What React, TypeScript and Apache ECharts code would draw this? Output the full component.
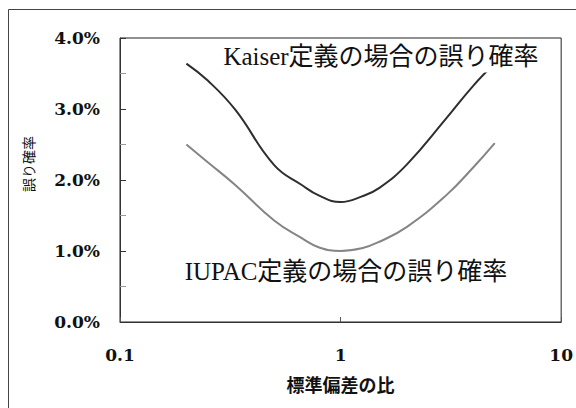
import React, { useEffect, useRef } from "react";
import * as echarts from "echarts";

const ratios = [0.2, 0.25, 0.333, 0.5, 0.667, 0.8, 1, 1.25, 1.5, 2, 3, 4, 5];
const kaiserValues = [3.64, 3.40, 2.99, 2.21, 1.93, 1.78, 1.69, 1.77, 1.89, 2.22, 2.86, 3.33, 3.64];
const iupacValues = [2.5, 2.25, 1.93, 1.43, 1.18, 1.05, 1.0, 1.04, 1.13, 1.34, 1.78, 2.18, 2.52];
const xTickLabels = ["0.1", "1", "10"];
const yTickLabels = ["0.0%", "1.0%", "2.0%", "3.0%", "4.0%"];
const kaiserLabel = "Kaiser定義の場合の誤り確率";
const iupacLabel = "IUPAC定義の場合の誤り確率";
const xName = "標準偏差の比";
const yName = "誤り確率";

const SERIF = "'DejaVu Serif', 'Liberation Serif', serif";
const MIXED = "'Liberation Serif', 'Noto Sans CJK JP', serif";
const CJK = "'Noto Sans CJK JP', sans-serif";

export default function App() {
  const ref = useRef<HTMLDivElement>(null);
  useEffect(() => {
    if (!ref.current) return;
    const chart = echarts.init(ref.current, undefined, { renderer: "svg" });
    const kaiser = ratios.map((r, i) => [r, kaiserValues[i]]);
    const iupac = ratios.map((r, i) => [r, iupacValues[i]]);
    chart.setOption({
      animation: false,
      backgroundColor: "#ffffff",
      grid: {
        left: 120,
        top: 38,
        right: 14,
        bottom: 86,
        show: true,
        borderColor: "#222",
        borderWidth: 1,
        backgroundColor: "transparent",
      },
      xAxis: {
        type: "log",
        logBase: 10,
        min: 0.1,
        max: 10,
        axisLine: { lineStyle: { color: "#333", width: 1 } },
        axisTick: { show: true, inside: true, length: 5, lineStyle: { color: "#555" } },
        minorTick: { show: false },
        splitLine: { show: false },
        axisLabel: {
          margin: 24,
          color: "#111",
          fontFamily: SERIF,
          fontWeight: "bold",
          fontSize: 17,
          formatter: (v: number) => {
            const idx = Math.round(Math.log10(v)) + 1;
            return xTickLabels[idx] ?? String(v);
          },
        },
        name: xName,
        nameLocation: "middle",
        nameGap: 53,
        nameTextStyle: { fontFamily: CJK, fontSize: 18, fontWeight: "bold", color: "#111" },
      },
      yAxis: {
        type: "value",
        min: 0,
        max: 4,
        interval: 1,
        axisLine: { show: true, lineStyle: { color: "#333", width: 1 } },
        axisTick: { show: true, inside: true, length: 6, lineStyle: { color: "#333" } },
        minorTick: { show: true, splitNumber: 2, length: 6, lineStyle: { color: "#999" } },
        splitLine: { show: false },
        axisLabel: {
          margin: 20,
          color: "#111",
          fontFamily: SERIF,
          fontWeight: "bold",
          fontSize: 17,
          formatter: (v: number) => yTickLabels[Math.round(v)] ?? "",
        },
      },
      series: [
        {
          type: "line",
          name: "IUPAC",
          data: iupac,
          smooth: 0.45,
          showSymbol: false,
          lineStyle: { color: "#858585", width: 2 },
          z: 2,
        },
        {
          type: "line",
          name: "Kaiser",
          data: kaiser,
          smooth: 0.45,
          showSymbol: false,
          lineStyle: { color: "#2e2e2e", width: 2 },
          z: 3,
        },
      ],
      graphic: [
        {
          type: "rect",
          z: 0,
          silent: true,
          shape: { x: 8.5, y: 9.5, width: 640, height: 480 },
          style: { fill: "none", stroke: "#444", lineWidth: 1 },
        },
        {
          type: "text",
          z: 100,
          x: 381,
          y: 56,
          style: {
            text: kaiserLabel,
            align: "center",
            verticalAlign: "middle",
            font: `25px ${MIXED}`,
            fill: "#111",
            backgroundColor: "#ffffff",
            padding: [2, 6, 6, 6],
          },
        },
        {
          type: "text",
          z: 100,
          x: 346,
          y: 271,
          style: {
            text: iupacLabel,
            align: "center",
            verticalAlign: "middle",
            font: `25px ${MIXED}`,
            fill: "#111",
          },
        },
        {
          type: "text",
          z: 100,
          x: 28,
          y: 164,
          rotation: Math.PI / 2,
          style: {
            text: yName,
            align: "center",
            verticalAlign: "middle",
            font: `14px ${CJK}`,
            fill: "#111",
          },
        },
      ],
    });
    return () => chart.dispose();
  }, []);
  return (
    <div
      ref={ref}
      style={{ position: "absolute", left: 0, top: 0, width: 576, height: 408 }}
    />
  );
}
